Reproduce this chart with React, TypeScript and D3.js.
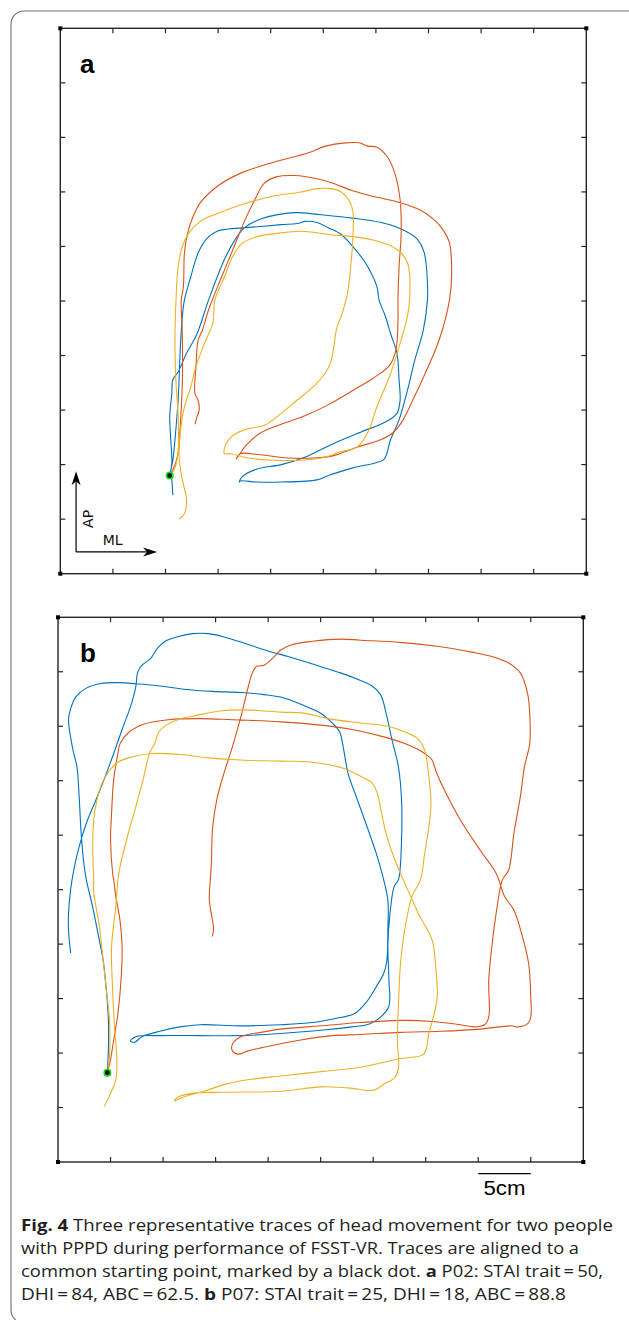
import * as d3 from "d3";
import React from "react";

type Pt = [number, number];

// trace colours, MATLAB default order (trial 1, 2, 3)
const traceColors = ["#0072BD", "#D95319", "#EDB120"];

// axis ticks in cm, one tick every 5 cm
const tickValues = [0, 5, 10, 15, 20, 25, 30, 35, 40, 45, 50];

// panel a: P02, head position in cm (ML, AP)
const startA: Pt = [10.4, 9.0];
const blueA: Pt[] = [
  [10.4, 9.0], [10.6, 10.1], [10.5, 12.3], [10.4, 14.4], [10.6, 16.5], [10.7, 17.8], [11.2, 18.5],
  [12.0, 20.2], [13.0, 22.0], [14.1, 25.1], [15.6, 28.8], [16.6, 30.6], [17.5, 31.7], [19.0, 32.5],
  [22.3, 33.1], [24.8, 32.9], [27.8, 32.6], [30.5, 32.2], [32.4, 31.6], [33.9, 30.7], [34.6, 29.4],
  [34.9, 26.6], [34.9, 25.1], [34.5, 22.3], [33.7, 19.6], [33.0, 16.8], [32.2, 14.1], [31.4, 12.3],
  [30.8, 10.5], [30.1, 10.2], [27.8, 9.7], [25.5, 9.0], [24.4, 8.6], [21.0, 8.4], [18.7, 8.4],
  [17.1, 8.5], [17.0, 8.4], [17.3, 8.9], [18.7, 9.6], [21.0, 10.0], [23.3, 10.7], [25.9, 11.9],
  [28.6, 13.0], [30.9, 13.9], [32.0, 14.7], [32.3, 15.9], [32.2, 17.8], [32.0, 20.2], [31.4, 22.0],
  [30.9, 23.6], [30.3, 25.1], [30.1, 26.3], [29.0, 28.5], [27.8, 30.0], [26.7, 31.1], [25.5, 31.7],
  [24.4, 32.2], [23.3, 32.3], [22.5, 32.1], [21.0, 32.0], [18.7, 31.8], [16.0, 31.6], [14.9, 31.4],
  [13.9, 30.7], [13.1, 29.4], [12.4, 27.2], [11.8, 25.1], [11.6, 23.6], [11.4, 20.5], [11.2, 15.9],
  [10.9, 12.3], [10.7, 10.4], [10.5, 9.4], [10.6, 8.6], [10.7, 7.2],
];
const orangeA: Pt[] = [
  [10.4, 9.0], [10.7, 9.5], [11.2, 11.0], [11.4, 13.5], [11.6, 17.5], [11.6, 22.0], [11.5, 25.1],
  [11.7, 26.3], [11.8, 29.4], [12.1, 31.2], [12.6, 32.7], [13.3, 34.0], [14.9, 35.5], [17.1, 36.7],
  [20.2, 37.7], [23.6, 38.6], [25.2, 39.2], [27.1, 39.5], [28.4, 39.5], [29.2, 39.2], [30.1, 39.1],
  [31.1, 38.2], [31.8, 36.7], [32.3, 34.3], [32.4, 31.2], [32.2, 28.1], [32.1, 25.1], [32.1, 23.3],
  [31.9, 20.5], [31.3, 19.1], [29.7, 17.9], [27.8, 16.8], [25.5, 15.5], [23.3, 14.5], [21.0, 13.7],
  [19.0, 12.9], [17.7, 11.8], [17.0, 10.9], [16.7, 10.5], [17.1, 11.0], [19.0, 10.9], [21.7, 10.6],
  [24.0, 10.6], [25.9, 10.8], [28.2, 11.6], [30.5, 12.3], [31.6, 12.9], [32.4, 13.8], [33.5, 15.9],
  [34.7, 18.4], [36.0, 21.4], [37.0, 25.1], [37.2, 27.5], [37.0, 30.3], [36.4, 31.5], [35.6, 32.4],
  [34.3, 33.3], [32.0, 34.1], [29.7, 34.6], [27.8, 35.1], [25.9, 35.8], [24.4, 36.2], [22.3, 36.5],
  [20.6, 36.4], [19.4, 35.8], [18.5, 34.3], [17.5, 32.3], [16.4, 29.7], [15.2, 26.9], [14.1, 24.2],
  [13.5, 22.3], [13.1, 21.4], [12.9, 19.0], [12.8, 16.5], [13.1, 15.9], [13.2, 15.0], [13.0, 14.4],
  [12.8, 13.7],
];
const yellowA: Pt[] = [
  [10.4, 9.0], [10.9, 9.7], [11.2, 11.3], [11.2, 14.4], [11.0, 17.5], [10.9, 21.4], [11.0, 25.1],
  [11.2, 28.1], [11.6, 30.0], [12.2, 31.2], [13.3, 32.3], [14.9, 33.0], [17.1, 33.8], [20.2, 34.6],
  [22.9, 35.0], [24.4, 35.3], [25.7, 35.3], [26.7, 35.0], [27.4, 34.3], [27.8, 33.3], [27.8, 30.6],
  [27.6, 28.1], [27.3, 25.7], [26.7, 23.6], [26.3, 22.6], [25.9, 20.2], [25.7, 19.4], [25.2, 18.4],
  [24.0, 17.1], [22.5, 15.9], [21.0, 14.7], [19.4, 13.6], [17.9, 13.3], [16.8, 12.9], [16.0, 12.3],
  [15.6, 11.5], [15.6, 11.0], [16.2, 11.0], [17.9, 10.6], [20.2, 10.4], [22.9, 10.4], [24.8, 10.6],
  [26.7, 11.2], [28.2, 11.6], [29.2, 12.9], [30.1, 15.3], [31.3, 18.1], [32.2, 20.8], [33.0, 23.6],
  [33.2, 25.1], [33.2, 27.5], [33.0, 28.5], [32.4, 29.4], [31.3, 30.1], [29.7, 30.6], [27.8, 30.9],
  [25.5, 31.1], [22.9, 31.4], [20.6, 31.2], [18.7, 30.9], [17.3, 30.3], [16.4, 29.1], [15.6, 27.2],
  [14.7, 25.1], [14.5, 23.0], [13.7, 21.1], [12.9, 19.0], [12.4, 17.1], [11.8, 15.3], [11.4, 12.9],
  [11.3, 10.7], [11.6, 8.6], [12.0, 6.8], [11.8, 5.5], [11.3, 5.0],
];

// panel b: P07
const startB: Pt = [4.7, 8.2];
const blueB: Pt[] = [
  [4.7, 8.2], [4.8, 10.6], [4.8, 13.0], [4.6, 15.8], [4.3, 18.5], [3.8, 21.0], [3.3, 23.4], [2.7, 25.9],
  [2.5, 27.1], [2.2, 30.2], [2.0, 33.8], [1.8, 36.3], [1.5, 37.5], [1.2, 39.0], [1.0, 40.6], [1.2, 41.6],
  [1.7, 42.7], [2.7, 43.5], [4.0, 43.9], [5.9, 44.0], [7.4, 43.9], [9.7, 43.7], [12.0, 43.4], [14.7, 43.2],
  [17.4, 43.1], [19.6, 42.9], [21.5, 42.6], [23.4, 41.9], [25.0, 41.2], [26.1, 40.3], [26.8, 39.5],
  [27.2, 37.8], [27.6, 35.7], [28.4, 33.5], [29.3, 31.1], [30.3, 28.3], [31.0, 25.9], [31.4, 24.0],
  [31.4, 21.3], [31.3, 18.5], [31.0, 17.3], [30.3, 16.1], [29.3, 14.6], [28.2, 13.6], [26.5, 13.2],
  [24.2, 12.8], [21.2, 12.6], [17.4, 12.5], [13.5, 12.6], [11.6, 12.4], [9.7, 12.0], [8.0, 11.5],
  [7.3, 11.0], [6.9, 11.1], [7.4, 11.5], [9.7, 11.6], [13.5, 11.6], [17.4, 11.6], [21.2, 11.8],
  [25.0, 12.1], [28.0, 12.4], [29.7, 12.7], [30.7, 13.3], [31.5, 14.3], [31.5, 16.7], [31.4, 19.8],
  [31.6, 22.8], [32.0, 25.3], [32.4, 25.9], [32.7, 29.6], [32.7, 33.2], [32.4, 36.3], [31.8, 38.7],
  [31.3, 40.9], [30.7, 42.9], [29.9, 43.7], [28.8, 44.2], [26.9, 44.9], [24.6, 45.6], [21.9, 46.4],
  [20.4, 46.8], [18.1, 47.5], [15.8, 48.2], [14.3, 48.5], [12.8, 48.5], [11.3, 48.2], [10.2, 47.8],
  [9.5, 47.2], [8.8, 46.2], [8.0, 45.6], [7.6, 45.0], [7.4, 43.6], [6.9, 41.8], [6.1, 39.7], [5.3, 37.5],
  [4.5, 35.4], [3.6, 33.2], [2.7, 31.1], [2.0, 28.9], [1.5, 26.8], [1.2, 25.0], [1.0, 22.8], [1.0, 21.3],
  [1.2, 19.2],
];
const orangeB: Pt[] = [
  [4.7, 8.2], [5.0, 9.4], [5.3, 11.2], [5.7, 13.6], [6.0, 16.7], [6.1, 19.8], [5.9, 22.2], [5.5, 24.4],
  [5.3, 25.9], [5.2, 26.5], [5.0, 29.6], [5.1, 32.0], [5.3, 35.1], [5.7, 37.5], [5.9, 38.4], [6.7, 39.4],
  [8.2, 40.2], [10.5, 40.6], [13.5, 40.7], [16.6, 40.6], [21.2, 40.4], [25.0, 40.1], [28.0, 39.7],
  [31.1, 39.0], [33.3, 38.3], [34.9, 37.5], [35.6, 36.9], [36.0, 35.8], [36.8, 34.1], [38.3, 31.4],
  [40.2, 28.6], [41.7, 26.5], [42.5, 24.4], [43.4, 23.1], [44.2, 20.7], [44.8, 18.2], [45.0, 15.2],
  [45.0, 13.3], [44.7, 12.7], [43.8, 12.4], [43.1, 12.5], [40.2, 12.2], [36.4, 12.0], [32.6, 11.9],
  [28.8, 11.7], [26.1, 11.6], [23.1, 11.2], [20.4, 10.7], [18.1, 10.2], [17.2, 9.9], [16.6, 10.2],
  [16.6, 10.8], [17.4, 11.5], [19.3, 11.9], [21.2, 12.2], [25.0, 12.5], [28.8, 12.8], [32.6, 13.0],
  [35.6, 12.9], [38.3, 12.6], [39.6, 12.4], [40.6, 12.6], [41.0, 13.3], [41.0, 16.7], [41.3, 19.8],
  [41.7, 22.8], [42.3, 25.9], [42.9, 26.8], [43.4, 30.2], [44.0, 33.5], [44.4, 36.3], [44.9, 38.4],
  [44.9, 41.2], [44.7, 43.0], [44.0, 44.9], [42.9, 45.8], [41.3, 46.4], [39.4, 46.8], [36.4, 47.3],
  [32.6, 47.7], [28.8, 47.9], [26.9, 48.0], [24.2, 47.8], [22.3, 47.5], [21.2, 47.0], [20.4, 46.2],
  [19.6, 45.6], [18.9, 45.5], [18.5, 44.9], [18.1, 43.6], [17.5, 41.2], [16.6, 38.1], [15.8, 35.7],
  [15.1, 33.2], [14.7, 30.5], [14.6, 27.4], [14.5, 25.9], [14.4, 24.1], [14.7, 22.2], [14.8, 21.5],
  [14.7, 20.7],
];
const yellowB: Pt[] = [
  [4.7, 8.2], [4.9, 9.7], [4.9, 13.0], [4.6, 15.8], [4.3, 18.5], [3.9, 21.9], [3.4, 24.7], [3.4, 25.9],
  [3.3, 28.9], [3.4, 31.4], [3.7, 33.2], [4.2, 34.8], [4.8, 35.8], [5.7, 36.7], [7.1, 37.2], [9.0, 37.5],
  [11.6, 37.4], [14.3, 37.1], [17.4, 36.9], [21.2, 36.8], [24.2, 36.7], [27.3, 36.1], [28.8, 35.4],
  [29.9, 34.8], [30.4, 33.8], [30.8, 32.0], [31.3, 29.9], [32.2, 27.4], [33.0, 25.6], [33.7, 24.1],
  [34.4, 22.6], [35.6, 20.4], [36.0, 17.3], [36.1, 15.2], [35.8, 13.6], [35.3, 11.8], [34.8, 9.9],
  [32.6, 9.5], [28.8, 8.7], [26.1, 8.4], [21.2, 7.9], [17.7, 7.5], [15.8, 7.1], [13.9, 6.5], [12.4, 6.1],
  [11.3, 5.7], [11.1, 5.6], [11.3, 5.9], [12.8, 6.3], [15.8, 6.4], [21.2, 6.5], [25.0, 6.9], [27.6, 6.8],
  [30.1, 6.6], [31.1, 7.2], [32.0, 7.7], [32.4, 8.6], [32.3, 11.2], [32.4, 14.3], [32.6, 18.2],
  [33.0, 21.3], [33.7, 24.4], [34.5, 25.9], [34.9, 28.3], [35.3, 30.8], [35.5, 32.9], [35.3, 35.4],
  [34.9, 37.8], [34.3, 38.8], [33.2, 39.4], [31.4, 40.0], [28.8, 40.3], [25.7, 40.7], [23.4, 41.2],
  [21.2, 41.3], [17.7, 41.5], [15.4, 41.4], [13.2, 41.0], [11.4, 40.6], [10.3, 40.1], [9.6, 39.5],
  [9.2, 38.4], [8.7, 37.5], [8.1, 35.1], [7.4, 32.6], [6.7, 30.2], [5.9, 27.1], [5.7, 25.9], [5.5, 23.4],
  [5.1, 19.8], [5.2, 15.8], [5.4, 12.1], [5.6, 9.4], [5.5, 7.5], [5.0, 6.3], [4.4, 5.1],
];

// scale bar (panel b), cm
const scaleBarFrom = 40;
const scaleBarTo = 45;

const AXIS = "#262626";
const TICK = 5;

interface PanelProps {
  label: string;
  traces: Pt[][];
  start: Pt;
  xRange: [number, number];
  yRange: [number, number];
  children?: (x: d3.ScaleLinear<number, number>, y: d3.ScaleLinear<number, number>) => React.ReactNode;
}

function Panel({ label, traces, start, xRange, yRange, children }: PanelProps) {
  const x = d3.scaleLinear().domain([0, 50]).range(xRange);
  const y = d3.scaleLinear().domain([0, 50]).range(yRange);
  const line = d3
    .line<Pt>()
    .x((d) => x(d[0]))
    .y((d) => y(d[1]))
    .curve(d3.curveCatmullRom.alpha(0.5));

  const x0 = x(0), x1 = x(50), yb = y(0), yt = y(50);
  const inner = tickValues.slice(1, -1);

  return (
    <g>
      {/* Spuren */}
      {traces.map((t, i) => (
        <path key={i} d={line(t) || ""} fill="none" stroke={traceColors[i]} strokeWidth={1.1} strokeLinejoin="round" />
      ))}
      <circle cx={x(start[0])} cy={y(start[1])} r={3.2} fill="#000" stroke="#11dd11" strokeWidth={1.6} />

      {/* Rahmen und Ticks */}
      <rect x={x0} y={yt} width={x1 - x0} height={yb - yt} fill="none" stroke={AXIS} strokeWidth={1.4} />
      {inner.map((v) => (
        <g key={v} stroke={AXIS} strokeWidth={1.2}>
          <line x1={x(v)} x2={x(v)} y1={yt} y2={yt + TICK} />
          <line x1={x(v)} x2={x(v)} y1={yb} y2={yb - TICK} />
          <line x1={x0} x2={x0 + TICK} y1={y(v)} y2={y(v)} />
          <line x1={x1} x2={x1 - TICK} y1={y(v)} y2={y(v)} />
        </g>
      ))}
      {[
        [x0, yt],
        [x1, yt],
        [x0, yb],
        [x1, yb],
      ].map(([cx, cy], i) => (
        <rect key={i} x={cx - 2} y={cy - 2} width={4} height={4} fill="#000" />
      ))}

      <text x={80} y={yt + 45} fontFamily="'Liberation Sans', Arial, sans-serif" fontWeight="bold" fontSize={26} fill="#000">
        {label}
      </text>
      {children && children(x, y)}
    </g>
  );
}

function Arrows({ x, y }: { x: d3.ScaleLinear<number, number>; y: d3.ScaleLinear<number, number> }) {
  // ML / AP direction arrows, cm
  const ox = x(1.5), oy = y(2.0);
  const tipY = y(9.4), tipX = x(9.2);
  return (
    <g>
      <line x1={ox} y1={oy} x2={ox} y2={tipY + 9} stroke="#000" strokeWidth={1.2} />
      <path d={`M${ox},${tipY} L${ox - 4.5},${tipY + 14} L${ox},${tipY + 10} L${ox + 4.5},${tipY + 14} Z`} fill="#000" />
      <line x1={ox} y1={oy} x2={tipX - 9} y2={oy} stroke="#000" strokeWidth={1.2} />
      <path d={`M${tipX},${oy} L${tipX - 14},${oy - 4.5} L${tipX - 10},${oy} L${tipX - 14},${oy + 4.5} Z`} fill="#000" />
      <text x={ox + 36.5} y={oy - 7} textAnchor="middle" fontFamily="'DejaVu Sans', sans-serif" fontSize={14} fill="#111">
        ML
      </text>
      <text
        transform={`translate(${ox + 17},${oy - 33}) rotate(-90)`}
        textAnchor="middle"
        fontFamily="'DejaVu Sans', sans-serif"
        fontSize={14}
        fill="#111"
      >
        AP
      </text>
    </g>
  );
}

const captionFont = "'Open Sans', 'Noto Sans', sans-serif";

export default function App() {
  return (
    <svg
      width={629}
      height={1320}
      viewBox="0 0 629 1320"
      style={{ position: "absolute", left: 0, top: 0, display: "block", background: "#fff" }}
    >
      <rect x={0} y={0} width={629} height={1320} fill="#fff" />
      <rect x={11} y={11} width={630} height={1312} rx={13} fill="none" stroke="#6d6d6d" strokeWidth={1.1} />

      <Panel label="a" traces={[blueA, orangeA, yellowA]} start={startA} xRange={[60.3, 586.3]} yRange={[573.7, 28.3]}>
        {(x, y) => <Arrows x={x} y={y} />}
      </Panel>

      <Panel label="b" traces={[blueB, orangeB, yellowB]} start={startB} xRange={[58, 583.3]} yRange={[1162, 617.3]}>
        {(x, y) => (
          <g>
            <line x1={x(scaleBarFrom)} x2={x(scaleBarTo)} y1={y(0) + 11.7} y2={y(0) + 11.7} stroke="#000" strokeWidth={1.3} />
            <text
              x={(x(scaleBarFrom) + x(scaleBarTo)) / 2}
              y={y(0) + 33}
              textAnchor="middle"
              fontFamily="'Liberation Sans', Arial, sans-serif"
              fontSize={20}
              textLength={42}
              lengthAdjust="spacingAndGlyphs"
              fill="#000"
            >
              5cm
            </text>
          </g>
        )}
      </Panel>

      <g fontFamily={captionFont} fontSize={16.5} fill="#231f20">
        <text x={21} y={1231} textLength={592} lengthAdjust="spacingAndGlyphs">
          <tspan fontWeight="bold">Fig. 4</tspan>
          <tspan>{"  Three representative traces of head movement for two people"}</tspan>
        </text>
        <text x={21} y={1254} textLength={558} lengthAdjust="spacingAndGlyphs">
          with PPPD during performance of FSST-VR. Traces are aligned to a
        </text>
        <text x={21} y={1277} textLength={582} lengthAdjust="spacingAndGlyphs">
          <tspan>{"common starting point, marked by a black dot. "}</tspan>
          <tspan fontWeight="bold">a</tspan>
          <tspan>{" P02: STAI trait\u2009=\u200950,"}</tspan>
        </text>
        <text x={21} y={1300} textLength={545} lengthAdjust="spacingAndGlyphs">
          <tspan>{"DHI\u2009=\u200984, ABC\u2009=\u200962.5. "}</tspan>
          <tspan fontWeight="bold">b</tspan>
          <tspan>{" P07: STAI trait\u2009=\u200925, DHI\u2009=\u200918, ABC\u2009=\u200988.8"}</tspan>
        </text>
      </g>
    </svg>
  );
}
